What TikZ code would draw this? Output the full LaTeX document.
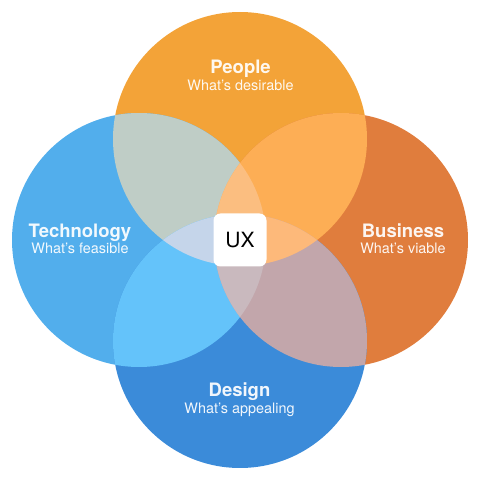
\documentclass[tikz,border=0pt]{standalone}
\usepackage{fontspec}
\setmainfont{TeX Gyre Heros}
\usepackage{tikz}
\definecolor{peoplecol}{HTML}{F3A338}
\definecolor{techcol}{HTML}{52AEEC}
\definecolor{businesscol}{HTML}{E07D3D}
\definecolor{designcol}{HTML}{3B8BD9}
\definecolor{ptcol}{HTML}{BFCDC6}
\definecolor{pbcol}{HTML}{FDAE55}
\definecolor{dtcol}{HTML}{64C3FA}
\definecolor{dbcol}{HTML}{C2A6AB}
\definecolor{ptbcol}{HTML}{FBBE80}
\definecolor{ptdcol}{HTML}{C5D5EA}
\definecolor{pbdcol}{HTML}{FDB97A}
\definecolor{tbdcol}{HTML}{C9B9BE}

\begin{document}
\begin{tikzpicture}[x=1pt,y=1pt,
    title/.style={anchor=base,text=white,text opacity=.93,font=\fontsize{18.5}{20}\selectfont\bfseries},
    sub/.style={anchor=base,text=white,text opacity=.93,font=\fontsize{14.4}{16}\selectfont},
    uxbox/.style={fill=white,rounded corners=7pt,minimum size=53pt,inner sep=0pt,text=black,font=\fontsize{21}{22}\selectfont}]
                        \useasboundingbox (0,0) rectangle (480,480);
                        \coordinate (people) at (240,341);
                        \coordinate (tech) at (139,240);
                        \coordinate (business) at (341,240);
                        \coordinate (design) at (240,139);

                        % the four circles
                        \fill[peoplecol] (people) circle (127pt);
                        \fill[techcol] (tech) circle (127pt);
                        \fill[businesscol] (business) circle (127pt);
                        \fill[designcol] (design) circle (127pt);

                        % pairs
                        \begin{scope}
                            \clip (people) circle (127pt);
                            \fill[ptcol] (tech) circle (127pt);
                            \fill[pbcol] (business) circle (127pt);
                        \end{scope}
                        \begin{scope}
                            \clip (design) circle (127pt);
                            \fill[dtcol] (tech) circle (127pt);
                            \fill[dbcol] (business) circle (127pt);
                        \end{scope}

                        % triples
                        \begin{scope}
                            \clip (people) circle (127pt);
                            \clip (tech) circle (127pt);
                            \fill[ptbcol] (business) circle (127pt);
                            \fill[ptdcol] (design) circle (127pt);
                        \end{scope}
                        \begin{scope}
                            \clip (design) circle (127pt);
                            \clip (business) circle (127pt);
                            \fill[pbdcol] (people) circle (127pt);
                            \fill[tbdcol] (tech) circle (127pt);
                        \end{scope}

                        \node[uxbox] (ux) at (240,240) {UX};

                        \node[title] (peopletitle) at (240.5,406) {People};
                        \node[sub] (peoplesub) at (240.5,389.5) {What’s desirable};
                        \node[title] (techtitle) at (80,242.7) {Technology};
                        \node[sub] (techsub) at (80,226) {What’s feasible};
                        \node[title] (businesstitle) at (403,242.7) {Business};
                        \node[sub] (businesssub) at (403,226) {What’s viable};
                        \node[title] (designtitle) at (239.5,83.3) {Design};
                        \node[sub] (designsub) at (239.5,66.7) {What’s appealing};
                    \end{tikzpicture}
\end{document}
